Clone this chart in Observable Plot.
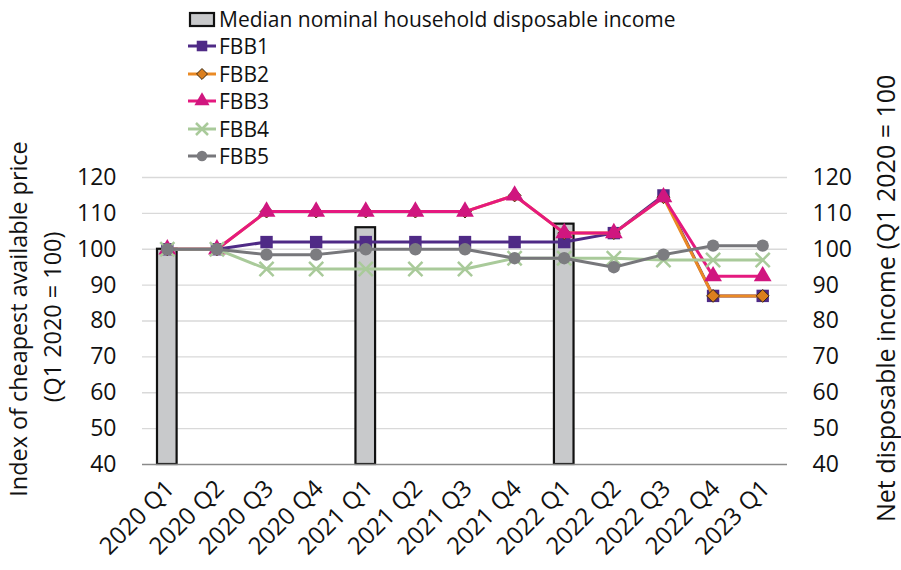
<!DOCTYPE html>
<html>
<head>
<meta charset="utf-8">
<script src="https://cdn.jsdelivr.net/npm/d3@7"></script>
<script src="https://cdn.jsdelivr.net/npm/@observablehq/plot@0.6"></script>
<style>
  html, body { margin: 0; padding: 0; background: #fff; }
  #chart { position: relative; width: 901px; height: 570px; font-family: "Open Sans", sans-serif; }
  #legend { position: absolute; left: 188px; top: 5px; font-size: 21px; color: #111; }
  #legend .row { display: flex; align-items: center; height: 27.5px; }
  #legend svg { margin-right: 3px; }
</style>
</head>
<body>
<div id="chart"><div id="legend"></div></div>
<script>
// Quarters on the x axis
const quarters = ["2020 Q1", "2020 Q2", "2020 Q3", "2020 Q4", "2021 Q1", "2021 Q2", "2021 Q3",
  "2021 Q4", "2022 Q1", "2022 Q2", "2022 Q3", "2022 Q4", "2023 Q1"];

// Median nominal household disposable income (annual, shown at Q1)
const income = [100, null, null, null, 106, null, null, null, 107, null, null, null, null];

// Index of cheapest available price per broadband tier
const fbb1 = [100, 100, 102, 102, 102, 102, 102, 102, 102, 104.5, 115, 87, 87];
const fbb2 = [100, 100, 110.5, 110.5, 110.5, 110.5, 110.5, 115, 104.5, 104.5, 114.5, 87, 87];
const fbb3 = [100, 100, 110.5, 110.5, 110.5, 110.5, 110.5, 115, 104.5, 104.5, 114.5, 92.5, 92.5];
const fbb4 = [100, 100, 94.5, 94.5, 94.5, 94.5, 94.5, 97.5, 97.5, 97.5, 97, 97, 97];
const fbb5 = [100, 100, 98.5, 98.5, 100, 100, 100, 97.5, 97.5, 95, 98.5, 101, 101];

const yTicks = [40, 50, 60, 70, 80, 90, 100, 110, 120];
const incomeLabel = "Median nominal household disposable income";

const seriesNames = ["FBB1", "FBB2", "FBB3", "FBB4", "FBB5"];
const seriesValues = [fbb1, fbb2, fbb3, fbb4, fbb5];
const seriesStyle = {
  FBB1: {line: "#4f2a86", symbol: "square", fill: "#4f2a86", stroke: "none", r: 7},
  FBB2: {line: "#ea8a25", symbol: "diamond2", fill: "#db7f1e", stroke: "#3b2a14", r: 5.8},
  FBB3: {line: "#e5197f", symbol: "triangle", fill: "#d0167f", stroke: "none", r: 6.6},
  FBB4: {line: "#a9ca9a", symbol: "times", fill: "none", stroke: "#a9ca9a", r: 6.5},
  FBB5: {line: "#77777b", symbol: "circle", fill: "#7c7c80", stroke: "none", r: 6.2}
};

const incomeRows = quarters.map((q, i) => ({quarter: q, value: income[i]})).filter(d => d.value != null);

const marks = [
  Plot.gridY(yTicks.filter(t => t > 40), {stroke: "#d9d9d9", strokeOpacity: 1, strokeWidth: 1.3}),
  Plot.barY(incomeRows, {x: "quarter", y1: 40, y2: "value", fill: "#c8c9cb", stroke: "#111", strokeWidth: 2.2, insetLeft: 15, insetRight: 15}),
  Plot.ruleY([40], {stroke: "#8a8a8a", strokeWidth: 1.5})
];

seriesNames.forEach((name, k) => {
  const rows = quarters.map((q, i) => ({quarter: q, value: seriesValues[k][i]}));
  const s = seriesStyle[name];
  marks.push(Plot.line(rows, {x: "quarter", y: "value", stroke: s.line, strokeWidth: 3}));
  marks.push(Plot.dot(rows, {
    x: "quarter", y: "value", symbol: () => s.symbol, r: s.r,
    fill: s.fill, stroke: s.stroke,
    strokeWidth: name === "FBB4" ? 2.5 : 1
  }));
});

marks.push(
  Plot.axisY(yTicks, {anchor: "left", tickSize: 0, tickPadding: 26, fontSize: 23, label: null}),
  Plot.axisY(yTicks, {anchor: "right", tickSize: 0, tickPadding: 25, fontSize: 23, label: null, textAnchor: "start"}),
  Plot.axisX({tickSize: 0, tickRotate: -45, tickPadding: 20, dx: 3, fontSize: 24, label: null})
);

const chart = Plot.plot({
  width: 901,
  height: 570,
  marginLeft: 142,
  marginRight: 114,
  marginTop: 177,
  marginBottom: 106,
  style: {fontFamily: "'Open Sans', sans-serif", color: "#111", background: "white"},
  x: {type: "band", domain: quarters, padding: 0, round: false},
  y: {domain: [40, 120]},
  marks
});

const svg = d3.select(chart);
// Axis titles
svg.append("text")
  .attr("transform", "translate(27,319) rotate(-90)")
  .attr("text-anchor", "middle").attr("font-size", 23.4).attr("fill", "#111")
  .text("Index of cheapest available price");
svg.append("text")
  .attr("transform", "translate(61,317) rotate(-90)")
  .attr("text-anchor", "middle").attr("font-size", 23.4).attr("fill", "#111")
  .text("(Q1 2020 = 100)");
svg.append("text")
  .attr("transform", "translate(895,522) rotate(-90)")
  .attr("text-anchor", "start").attr("font-size", 25).attr("fill", "#111")
  .text("Net disposable income (Q1 2020 = 100");

document.getElementById("chart").prepend(chart);
chart.style.position = "absolute";
chart.style.left = "0";
chart.style.top = "0";

// Legend
const legend = d3.select("#legend");
const barRow = legend.append("div").attr("class", "row");
const bs = barRow.append("svg").attr("width", 28).attr("height", 20);
bs.append("rect").attr("x", 2).attr("y", 4).attr("width", 24).attr("height", 13)
  .attr("fill", "#c8c9cb").attr("stroke", "#111").attr("stroke-width", 2.2);
barRow.append("span").text(incomeLabel);

const symbolMap = {square: d3.symbolSquare, diamond2: d3.symbolDiamond2, triangle: d3.symbolTriangle, times: d3.symbolTimes, circle: d3.symbolCircle};
seriesNames.forEach(name => {
  const s = seriesStyle[name];
  const row = legend.append("div").attr("class", "row");
  const sv = row.append("svg").attr("width", 28).attr("height", 20);
  sv.append("line").attr("x1", 0).attr("x2", 28).attr("y1", 10).attr("y2", 10)
    .attr("stroke", s.line).attr("stroke-width", 3);
  sv.append("path")
    .attr("transform", "translate(14,10)")
    .attr("d", d3.symbol(symbolMap[s.symbol], Math.PI * (s.r * 0.85) ** 2)())
    .attr("fill", s.fill).attr("stroke", s.stroke)
    .attr("stroke-width", name === "FBB4" ? 2.5 : 1);
  row.append("span").text(name);
});
</script>
</body>
</html>
